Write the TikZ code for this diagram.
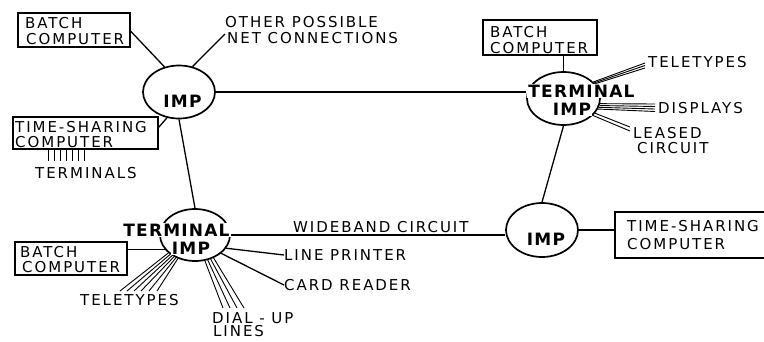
\documentclass[tikz,border=0pt]{standalone}
\usepackage{fontspec}
\usetikzlibrary{shapes.geometric,calc}
\newfontfamily\lblfont{DejaVu Sans}[LetterSpace=13]
\newfontfamily\boldlbl{DejaVu Sans}[LetterSpace=7]
\begin{document}
\begin{tikzpicture}[x=1pt,y=-1pt,
  lbl/.style={font={\lblfont\fontsize{15}{18}\selectfont}, inner sep=0pt, anchor=west},
  blbl/.style={font={\boldlbl\bfseries\fontsize{17}{20}\selectfont}, inner sep=1pt, fill=white},
  imp/.style={draw, ellipse, line width=1.7pt, inner sep=0pt},
  box/.style={draw, rectangle, line width=1.5pt, inner sep=0pt},
  wire/.style={line width=1.3pt},
  thinwire/.style={line width=0.9pt}]
\useasboundingbox (0,0) rectangle (764,341);

% IMP ellipses
\node[imp, minimum width=72pt, minimum height=53pt] (A) at (179,92) {};
\node[imp, minimum width=73pt, minimum height=53pt] (B) at (563.5,98.5) {};
\node[imp, minimum width=70pt, minimum height=52pt] (C) at (195,235) {};
\node[imp, minimum width=72pt, minimum height=54pt] (D) at (542,230) {};

% computer boxes
\node[box, minimum width=112pt, minimum height=34pt] (b1) at (74,30) {};
\node[box, minimum width=145pt, minimum height=32pt] (b2) at (85.5,133) {};
\node[box, minimum width=114pt, minimum height=35pt] (b3) at (540,37.5) {};
\node[box, minimum width=112pt, minimum height=33pt] (b4) at (71,258.5) {};
\node[box, minimum width=160pt, minimum height=46pt] (b5) at (695,235) {};

% box texts
\node[lbl] (b1t1) at (25,23) {BATCH};
\node[lbl] (b1t2) at (26,39) {COMPUTER};
\node[lbl] (b2t1) at (15,127) {TIME-SHARING};
\node[lbl] (b2t2) at (15,142.5) {COMPUTER};
\node[lbl] (b3t1) at (490,32) {BATCH};
\node[lbl] (b3t2) at (490,48) {COMPUTER};
\node[lbl] (b4t1) at (20,252) {BATCH};
\node[lbl] (b4t2) at (22,267.5) {COMPUTER};
\node[lbl] (b5t1) at (627,226) {TIME-SHARING};
\node[lbl] (b5t2) at (627,244) {COMPUTER};

% other labels
\node[lbl] (oth1) at (225,22) {OTHER POSSIBLE};
\node[lbl] (oth2) at (227,38) {NET CONNECTIONS};
\node[lbl] (term) at (35,173) {TERMINALS};
\node[lbl] (wide) at (293,227) {WIDEBAND CIRCUIT};
\node[lbl] (lpt) at (284,255) {LINE PRINTER};
\node[lbl] (crd) at (284,285) {CARD READER};
\node[lbl] (tty1) at (80,300) {TELETYPES};
\node[lbl] (dial1) at (212,318) {DIAL - UP};
\node[lbl] (dial2) at (213,331.5) {LINES};
\node[lbl] (tty2) at (648,62) {TELETYPES};
\node[lbl] (disp) at (658,108) {DISPLAYS};
\node[lbl] (lsd1) at (633,133) {LEASED};
\node[lbl] (lsd2) at (637,148) {CIRCUIT};

% connections
\coordinate (othc) at (225,34);
\draw[wire] ([yshift=-19pt]b1.north east) -- (A.120);
\draw[wire] (A.62) -- (othc);
\draw[wire] ([yshift=-11pt]b2.north east) -- (A.245);
\draw[wire] (A.south) -- (C.north);
\draw[wire] (A.east) -- (A.east -| B.west);
\draw[wire] (B.north |- b3.south) -- (B.north);
\draw[wire] (B.south) -- (D.north);
\draw[wire] (C.206 -| b4.east) -- (C.206);
\draw[wire] (C.east) -- (C.east -| D.west);
\draw[wire] (D.east) -- (D.east -| b5.west);
\draw[wire] (C.337) -- (lpt.west);
\draw[wire] (C.325) -- (crd.west);

% terminals
\foreach \x in {48,54,60,66,72,78,84} {
  \coordinate (tm\x) at (\x,161);
  \draw[thinwire] (tm\x |- b2.south) -- (tm\x);
}
% teletypes (bottom)
\foreach \i/\a/\ex in {1/214/120, 2/218/127, 3/222/134, 4/226/141, 5/230/149, 6/234/157} {
  \coordinate (tt\i) at (\ex,291);
  \draw[thinwire] (C.\a) -- (tt\i);
}
% dial-up lines
\foreach \i/\a/\ex in {1/291/223, 2/297/230, 3/303/237, 4/309/244} {
  \coordinate (du\i) at (\ex,308);
  \draw[thinwire] (C.\a) -- (du\i);
}
% teletypes (top right)
\foreach \i/\a/\ey in {1/25/68, 2/27/65.5, 3/29/63} {
  \coordinate (tr\i) at (645,\ey);
  \draw[thinwire] (B.\a) -- (tr\i);
}
% displays
\foreach \i/\a/\ey in {1/-8/104, 2/-11/106.5, 3/-14/109, 4/-17/111.5} {
  \coordinate (ds\i) at (655,\ey);
  \draw[thinwire] (B.\a) -- (ds\i);
}
% leased circuit
\foreach \i/\a/\ey in {1/-25/127, 2/-30/131} {
  \coordinate (ls\i) at (630,\ey);
  \draw[thinwire] (B.\a) -- (ls\i);
}

% IMP texts
\node[blbl] (Atx) at (182.5,101) {IMP};
\node[blbl] (Btx1) at (581.5,91) {TERMINAL};
\node[blbl] (Btx2) at (572,109) {IMP};
\node[blbl] (Ctx1) at (176.5,230) {TERMINAL};
\node[blbl] (Ctx2) at (191,248) {IMP};
\node[blbl] (Dtx) at (546,239) {IMP};
\end{tikzpicture}
\end{document}
